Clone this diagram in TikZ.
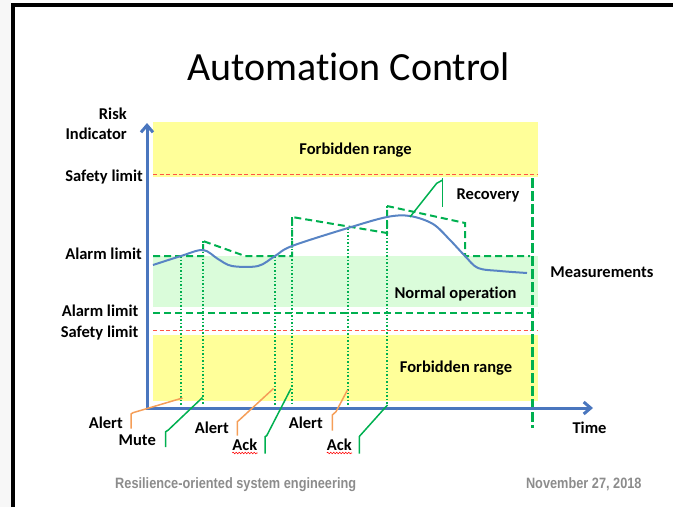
\documentclass[tikz,border=0pt]{standalone}
\usepackage{fontspec}
\setmainfont{Carlito}[Ligatures=NoCommon]
\newfontfamily\footerfont[FakeStretch=0.85]{Liberation Sans}
\usetikzlibrary{arrows.meta,decorations.pathmorphing}
\definecolor{axisBlue}{RGB}{74,118,190}
\definecolor{curveBlue}{RGB}{88,132,196}
\definecolor{alarmGreen}{RGB}{0,176,80}
\definecolor{yellowBand}{RGB}{255,255,153}
\definecolor{greenBand}{RGB}{218,252,218}
\definecolor{limitRed}{RGB}{255,85,70}
\definecolor{alertOrange}{RGB}{245,158,88}
\definecolor{footerGray}{RGB}{140,140,140}
\begin{document}
\begin{tikzpicture}
[x=1pt,y=-1pt,
  axisDecorate/.style={line width=3pt,axisBlue,
    {Straight Barb[length=7pt,width=12pt]}-{Straight Barb[length=7pt,width=12pt]}},%
  limitDecorate/.style={limitRed,line width=1pt,dash pattern=on 4pt off 2.5pt},%
  alarmDecorate/.style={alarmGreen,line width=2pt,dash pattern=on 7pt off 4pt},%
  horizonDecorate/.style={alarmGreen,line width=3pt,dash pattern=on 10pt off 3pt},%
  eventDecorate/.style={alarmGreen,line width=1.5pt,dash pattern=on 1.5pt off 2pt},%
  curveDecorate/.style={curveBlue,line width=2pt},%
  alertCallout/.style={alertOrange,line width=1.5pt},%
  ackCallout/.style={alarmGreen,line width=1.5pt},%
  labelDecorate/.style={font=\bfseries\fontsize{16.5}{18}\selectfont,inner sep=0pt},%
  spellDecorate/.style={red,line width=0.6pt,decorate,
    decoration={snake,amplitude=0.8pt,segment length=3pt}}]
\useasboundingbox (0,0) rectangle (673,507);
%% slide frame
\fill[black!3] (0,0) rectangle (11,507);
\draw[line width=4pt] (13,507) -- (13,5) -- (673,5);
\node (title) at (348.5,80) [anchor=base,inner sep=0pt,font=\fontsize{40}{48}\selectfont] {Automation Control};
%% ranges
\fill[yellowBand] (153,122) rectangle (538,177);
\fill[greenBand] (153,256) rectangle (538,307);
\fill[yellowBand] (153,335) rectangle (538,401);
\draw[limitDecorate] (153,174) -- (538,174);
\draw[limitDecorate] (153,330) -- (538,330);
\draw[alarmDecorate] (153,313) -- (538,313);
%% events on the time line
\foreach \x/\y in {181/256,203/241,275/256,292/217,348/228,387/206}
  \draw[eventDecorate] (\x,\y) -- (\x,405);
%% alarm threshold, raised after each mute or ack
\draw[alarmDecorate] (153,256) -- (203,256) -- (203,241) -- (245,256) -- (292,256)
  -- (292,217) -- (387,233) -- (387,206) -- (465,223) -- (465,256) -- (530,256);
\draw[horizonDecorate] (532,178) -- (532,428);
%% measurements
\draw[curveDecorate] plot[smooth,tension=0.55] coordinates {(153,265) (181,256) (203,250)
  (218,259) (232,266) (258,266) (275,256) (292,246) (348,228) (387,217) (410,216)
  (433,224) (450,240) (465,256) (478,268) (500,271) (527,273)};
%% axes
\draw[axisDecorate] (147,123) -- (147,408) -- (593,408);
%% callout points
\coordinate (alertA) at (182.5,398);
\coordinate (muteA) at (202.5,397.5);
\coordinate (alertB) at (273.5,388.5);
\coordinate (ackA) at (291,388.5);
\coordinate (alertC) at (347.5,390);
\coordinate (ackB) at (387.5,405);
\coordinate (recov) at (410,217);
\draw[alertCallout] (alertA) -- (133,412.7) -- (131,414) -- (131,428.5);
\draw[ackCallout] (muteA) -- (168.3,430) -- (165.7,431.7) -- (165.7,447);
\draw[alertCallout] (alertB) -- (239.3,420) -- (237.3,421.7) -- (237.3,435.5);
\draw[ackCallout] (ackA) -- (266.7,435.7) -- (265,436.7) -- (265,453.5);
\draw[alertCallout] (alertC) -- (336,411.7) -- (332.3,415) -- (332.3,430.5);
\draw[ackCallout] (ackB) -- (360,435.7) -- (359.3,436.7) -- (359.3,453.5);
\draw[ackCallout] (recov) -- (436.7,183.3) -- (442.7,180);
\draw[ackCallout] (442.7,178) -- (442.7,207);
%% axis labels
\node (risk) at (127,119) [labelDecorate,anchor=base east] {Risk};
\node (indicator) at (127,139) [labelDecorate,anchor=base east] {Indicator};
\node (safetyUp) at (143,181) [labelDecorate,anchor=base east] {Safety limit};
\node (alarmUp) at (142,259) [labelDecorate,anchor=base east] {Alarm limit};
\node (alarmLow) at (138.5,316) [labelDecorate,anchor=base east] {Alarm limit};
\node (safetyLow) at (138.5,337) [labelDecorate,anchor=base east] {Safety limit};
\node (time) at (589.5,433) [labelDecorate,anchor=base] {Time};
%% range labels
\node (forbiddenUp) at (355.5,154) [labelDecorate,anchor=base] {Forbidden range};
\node (recovery) at (488,199) [labelDecorate,anchor=base] {Recovery};
\node (meas) at (602,277) [labelDecorate,anchor=base] {Measurements};
\node (normal) at (455.5,298) [labelDecorate,anchor=base] {Normal operation};
\node (forbiddenLow) at (456,372) [labelDecorate,anchor=base] {Forbidden range};
%% event labels
\node (alertAL) at (123,428) [labelDecorate,anchor=base east] {Alert};
\node (muteAL) at (156,445) [labelDecorate,anchor=base east] {Mute};
\node (alertBL) at (229,433) [labelDecorate,anchor=base east] {Alert};
\node (ackAL) at (257.5,450) [labelDecorate,anchor=base east] {Ack};
\node (alertCL) at (323,428) [labelDecorate,anchor=base east] {Alert};
\node (ackBL) at (352,450) [labelDecorate,anchor=base east] {Ack};
\draw[spellDecorate] ([yshift=-3pt]ackAL.base west) -- ([yshift=-3pt]ackAL.base east);
\draw[spellDecorate] ([yshift=-3pt]ackBL.base west) -- ([yshift=-3pt]ackBL.base east);
%% footer
\node (footLeft) at (235.7,488.7) [anchor=base,inner sep=0pt,text=footerGray,
  font=\footerfont\bfseries\fontsize{15}{17}\selectfont] {Resilience-oriented system engineering};
\node (footRight) at (583.8,488.7) [anchor=base,inner sep=0pt,text=footerGray,
  font=\footerfont\bfseries\fontsize{15}{17}\selectfont] {November 27, 2018};
\end{tikzpicture}
\end{document}
